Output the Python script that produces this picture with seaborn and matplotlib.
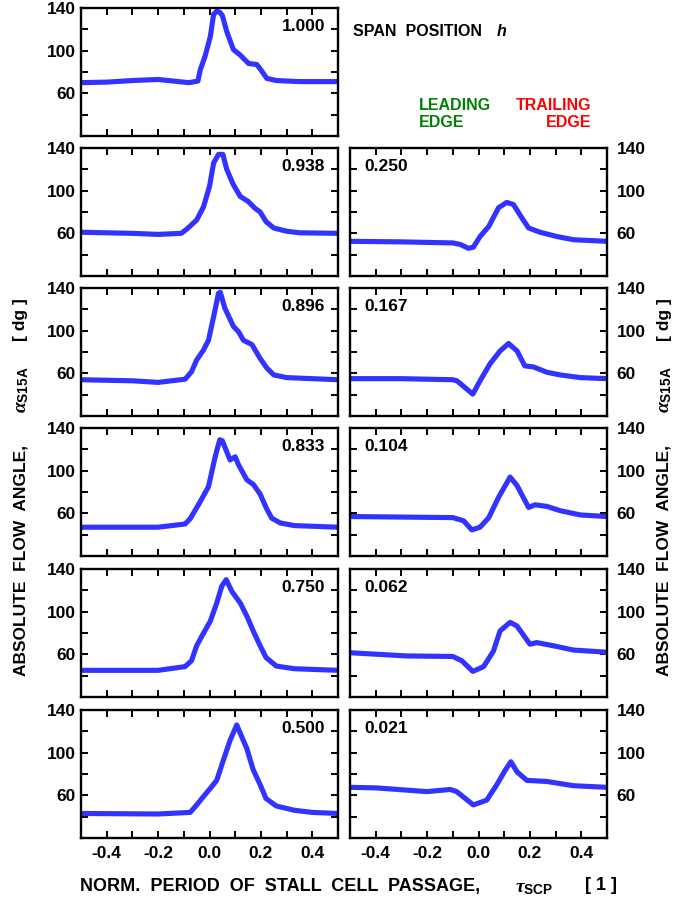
import numpy as np
import pandas as pd
import matplotlib
matplotlib.use("Agg")
import matplotlib.pyplot as plt
import seaborn as sns
from matplotlib.ticker import MultipleLocator, FuncFormatter

# ---------------- data ----------------
left_spans = ["1.000", "0.938", "0.896", "0.833", "0.750", "0.500"]
right_spans = ["0.250", "0.167", "0.104", "0.062", "0.021"]

x_1000 = [-0.5, -0.4, -0.3, -0.2, -0.12, -0.08, -0.045, -0.036, -0.017, 0.003, 0.016, 0.028, 0.04, 0.05, 0.067, 0.093, 0.119, 0.152, 0.184, 0.197, 0.223, 0.26, 0.35, 0.5]
y_1000 = [70, 70.5, 72, 73, 71, 70, 71.5, 82, 95, 113, 134, 137, 136, 133, 118, 101, 96, 88, 87, 83, 74, 72, 71, 71]

x_0938 = [-0.5, -0.3, -0.2, -0.11, -0.088, -0.05, -0.023, 0.0, 0.016, 0.035, 0.052, 0.067, 0.093, 0.12, 0.15, 0.177, 0.197, 0.22, 0.25, 0.3, 0.35, 0.5]
y_0938 = [61, 60, 59, 60, 64, 72.5, 85, 104, 126, 134, 134, 120, 105.5, 94.5, 90, 83.5, 80, 71, 65, 62, 60.5, 60]

x_0896 = [-0.5, -0.3, -0.2, -0.095, -0.07, -0.05, -0.023, -0.004, 0.016, 0.035, 0.042, 0.06, 0.093, 0.113, 0.132, 0.165, 0.197, 0.223, 0.25, 0.3, 0.4, 0.5]
y_0896 = [54, 53, 51.5, 54.5, 61.5, 72.5, 82, 91, 113, 135, 136, 121, 104, 99, 91, 87, 74, 65, 58.5, 56, 55, 54]

x_0833 = [-0.5, -0.2, -0.095, -0.075, -0.036, -0.004, 0.022, 0.04, 0.05, 0.08, 0.1, 0.113, 0.145, 0.171, 0.197, 0.223, 0.242, 0.275, 0.33, 0.5]
y_0833 = [47, 47, 50, 55, 71, 85, 113, 129, 128, 110, 113, 105.5, 91.5, 87, 78, 64, 55.5, 51, 48.5, 47]

x_0750 = [-0.5, -0.2, -0.095, -0.07, -0.05, -0.023, 0.003, 0.028, 0.048, 0.065, 0.087, 0.12, 0.145, 0.17, 0.197, 0.22, 0.26, 0.33, 0.5]
y_0750 = [45, 45, 48.5, 54, 68, 80, 91, 108, 124, 130, 119, 108, 96, 82, 68, 57, 49, 46.5, 45]

x_0500 = [-0.5, -0.2, -0.075, -0.05, -0.023, 0.003, 0.028, 0.054, 0.08, 0.106, 0.12, 0.145, 0.17, 0.197, 0.22, 0.26, 0.33, 0.4, 0.5]
y_0500 = [43, 42.5, 44, 51, 59, 66.5, 74, 93, 111.5, 126, 118, 104, 84, 70, 57, 50, 46, 44, 43]

x_0250 = [-0.5, -0.3, -0.1, -0.07, -0.04, -0.02, 0.006, 0.04, 0.078, 0.11, 0.136, 0.17, 0.195, 0.24, 0.305, 0.37, 0.5]
y_0250 = [52.5, 52, 51, 49.5, 46, 47, 57, 66.5, 84, 89, 87, 74, 65, 61, 57, 54, 52.5]

x_0167 = [-0.5, -0.3, -0.1, -0.084, -0.022, 0.006, 0.045, 0.084, 0.117, 0.15, 0.18, 0.214, 0.266, 0.318, 0.396, 0.5]
y_0167 = [55, 55, 54, 53, 40.5, 53, 69, 81, 88, 81, 67, 66, 61, 58.5, 56, 55]

x_0104 = [-0.5, -0.3, -0.1, -0.058, -0.026, 0.006, 0.04, 0.078, 0.123, 0.15, 0.195, 0.22, 0.266, 0.318, 0.396, 0.5]
y_0104 = [57, 56.5, 56, 53, 44.5, 47, 56, 75, 94, 86, 65.5, 68, 66.5, 62.5, 58.5, 57]

x_0062 = [-0.5, -0.28, -0.1, -0.065, -0.022, 0.02, 0.058, 0.084, 0.123, 0.15, 0.2, 0.227, 0.292, 0.37, 0.5]
y_0062 = [61.5, 58.5, 58, 54, 44, 48.5, 63, 82, 90, 86.5, 69.5, 71, 68, 64, 62]

x_0021 = [-0.5, -0.4, -0.2, -0.11, -0.085, -0.02, 0.032, 0.07, 0.104, 0.126, 0.15, 0.188, 0.266, 0.37, 0.5]
y_0021 = [67.5, 67, 63.5, 65.5, 63.5, 51, 55.5, 69.5, 83.5, 91.5, 82, 74, 73, 69, 67.5]

x_ticklabels = ["-0.4", "-0.2", "0.0", "0.2", "0.4"]
y_ticklabels = ["60", "100", "140"]

left_data = [(x_1000, y_1000), (x_0938, y_0938), (x_0896, y_0896),
             (x_0833, y_0833), (x_0750, y_0750), (x_0500, y_0500)]
right_data = [(x_0250, y_0250), (x_0167, y_0167), (x_0104, y_0104),
              (x_0062, y_0062), (x_0021, y_0021)]

# ---------------- style ----------------
sns.set_theme(style="ticks")
plt.rcParams['font.family'] = ['Liberation Sans', 'DejaVu Sans']
plt.rcParams['font.weight'] = 'bold'
plt.rcParams['text.color'] = 'black'
plt.rcParams['axes.labelcolor'] = 'black'
plt.rcParams['xtick.color'] = 'black'
plt.rcParams['ytick.color'] = 'black'
plt.rcParams['mathtext.fontset'] = 'custom'
plt.rcParams['mathtext.rm'] = 'Liberation Sans:bold'
plt.rcParams['mathtext.it'] = 'Liberation Serif:italic'
plt.rcParams['mathtext.bf'] = 'Liberation Sans:bold'

W, H = 692, 900
fig = plt.figure(figsize=(W / 100, H / 100), dpi=100)

LINE_COLOR = "#3333ff"
row_tops = [8, 148, 288, 428, 569, 710]
ax_h = 128
left_x0, right_x0, ax_w = 81, 350, 257
TICK_FS = 12.5


def make_ax(x0, top):
    return fig.add_axes([x0 / W, 1 - (top + ax_h) / H, ax_w / W, ax_h / H])


def x_fmt(v, pos):
    s = f"{v:.1f}"
    if s == "-0.0":
        s = "0.0"
    return s if s in x_ticklabels else ""


def y_fmt(v, pos):
    s = f"{v:.0f}"
    return s if s in y_ticklabels else ""


def style_ax(ax, side, bottom_labels):
    ax.set_xlim(-0.5, 0.5)
    ax.set_ylim(20, 140)
    ax.xaxis.set_major_locator(MultipleLocator(0.1))
    ax.yaxis.set_major_locator(MultipleLocator(20))
    ax.xaxis.set_major_formatter(FuncFormatter(x_fmt))
    ax.yaxis.set_major_formatter(FuncFormatter(y_fmt))
    for sp in ax.spines.values():
        sp.set_linewidth(1.7)
        sp.set_color("black")
        sp.set_visible(True)
    ax.tick_params(axis="both", which="both", direction="in", length=5, width=1.4,
                   top=True, bottom=True, left=True, right=True, colors="black")
    ax.tick_params(axis="y", labelsize=TICK_FS, labelleft=(side == "left"),
                   labelright=(side == "right"), pad=(4 if side == "left" else 7))
    ax.tick_params(axis="x", labelsize=TICK_FS, labelbottom=bottom_labels,
                   labeltop=False, pad=6)
    for lab in ax.get_xticklabels() + ax.get_yticklabels():
        lab.set_fontweight("bold")
    ax.set_xlabel("")
    ax.set_ylabel("")
    ax.set_facecolor("white")
    ax.grid(False)


for i, (span, (xs, ys)) in enumerate(zip(left_spans, left_data)):
    ax = make_ax(left_x0, row_tops[i])
    df = pd.DataFrame({"tau": xs, "alpha": ys})
    sns.lineplot(data=df, x="tau", y="alpha", ax=ax, sort=False, estimator=None,
                 color=LINE_COLOR, linewidth=3.7)
    style_ax(ax, "left", i == len(left_spans) - 1)
    ax.text(0.949, 0.852, span, transform=ax.transAxes, ha="right", va="center",
            fontsize=TICK_FS, fontweight="bold")

for j, (span, (xs, ys)) in enumerate(zip(right_spans, right_data)):
    ax = make_ax(right_x0, row_tops[j + 1])
    df = pd.DataFrame({"tau": xs, "alpha": ys})
    sns.lineplot(data=df, x="tau", y="alpha", ax=ax, sort=False, estimator=None,
                 color=LINE_COLOR, linewidth=3.7)
    style_ax(ax, "right", j == len(right_spans) - 1)
    ax.text(0.054, 0.852, span, transform=ax.transAxes, ha="left", va="center",
            fontsize=TICK_FS, fontweight="bold")


def ftext(xp, yp, s, **kw):
    return fig.text(xp / W, 1 - yp / H, s, **kw)


# header annotations
ftext(353, 31, "SPAN  POSITION", ha="left", va="center", fontsize=11.5, fontweight="bold")
ftext(497, 31, "h", ha="left", va="center", fontsize=11.5, fontweight="bold", style="italic")
ftext(419, 114, "LEADING\nEDGE", ha="left", va="center", fontsize=11.5,
      fontweight="bold", color="#008000", linespacing=1.15)
ftext(591, 114, "TRAILING\nEDGE", ha="right", va="center", fontsize=11.5,
      fontweight="bold", color="#ff0000", linespacing=1.15, multialignment="right")

# y-axis labels (both sides)
for xc in (21, 664):
    ftext(xc, 560, "ABSOLUTE  FLOW  ANGLE,", ha="center", va="center", rotation=90,
          fontsize=12.5, fontweight="bold")
    ftext(xc + 2, 390, r"$\alpha_{\mathrm{S15A}}$", ha="center", va="center",
          rotation=90, fontsize=14)
    ftext(xc, 320, "[ dg ]", ha="center", va="center", rotation=90,
          fontsize=12.5, fontweight="bold")

# x-axis label
ftext(80, 886, "NORM.  PERIOD  OF  STALL  CELL  PASSAGE,", ha="left", va="center",
      fontsize=13, fontweight="bold")
ftext(515, 888, r"$\tau_{\mathrm{SCP}}$", ha="left", va="center", fontsize=14)
ftext(585, 886, "[ 1 ]", ha="left", va="center", fontsize=13, fontweight="bold")

fig.savefig("out.png", dpi=100, facecolor="white")
